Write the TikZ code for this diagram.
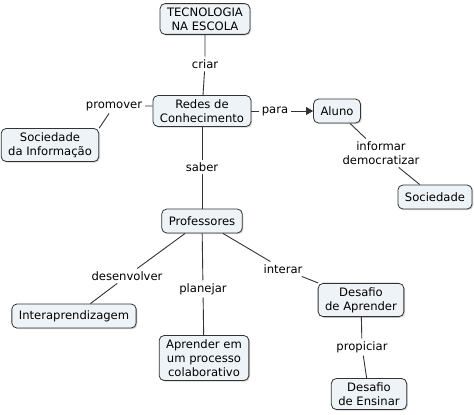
\documentclass[tikz,border=0pt]{standalone}
\usepackage{fontspec}
\setmainfont{DejaVu Sans}
\usepackage{tikz}
\usetikzlibrary{arrows, shadows, positioning}
\definecolor{cfill}{RGB}{237,243,246}
\definecolor{cline}{RGB}{51,51,51}
\tikzstyle{concept}=[rectangle, rounded corners=5pt, draw=cline, fill=cfill, thick, align=center,
  inner xsep=7pt, inner ysep=4pt, minimum height=24pt,
  drop shadow={shadow xshift=1.2pt, shadow yshift=-1.2pt, opacity=0.35}]
\tikzstyle{link}=[align=center, inner sep=2.5pt]
\tikzstyle{post}=[->, >=triangle 60]

\begin{document}
\begin{tikzpicture}[x=1pt, y=-1pt, font=\fontsize{11.6}{14}\selectfont, line width=0.9pt, draw=cline]
      \useasboundingbox (0,0) rectangle (474,415);

      \node[concept] (tec)    at (205,19)  {TECNOLOGIA\\NA ESCOLA};
      \node[concept] (redes)  at (202,111) {Redes de\\Conhecimento};
      \node[concept] (aluno)  at (337,111) {Aluno};
      \node[concept] (socinf) at (50,145)  {Sociedade\\da Informação};
      \node[concept] (soc)    at (435,197) {Sociedade};
      \node[concept] (prof)   at (202,221) {Professores};
      \node[concept] (inter)  at (74,316)  {Interaprendizagem};
      \node[concept] (colab)  at (204,358) {Aprender em\\um processo\\colaborativo};
      \node[concept] (dapr)   at (361,300) {Desafio\\de Aprender};
      \node[concept] (dens)   at (369,394) {Desafio\\de Ensinar};

      \node[link] (lcriar) at (205,64)  {criar};
      \node[link] (lprom)  at (114,106) {promover};
      \node[link] (lpara)  at (275,111) {para};
      \node[link] (linf)   at (381,153) {informar\\democratizar};
      \node[link] (lsaber) at (202,167) {saber};
      \node[link] (ldes)   at (127,276) {desenvolver};
      \node[link] (lplan)  at (203,289) {planejar};
      \node[link] (linter) at (283,269) {interar};
      \node[link] (lprop)  at (362,347) {propiciar};

      \draw (tec) -- (lcriar) -- (redes);
      \draw (redes.west |- lprom) -- (lprom) -- (socinf.north east);
      \draw (redes) -- (lpara);
      \draw[post] (lpara) -- (aluno);
      \draw (aluno) -- (linf) -- (soc);
      \draw (redes) -- (lsaber) -- (prof);
      \draw (prof) -- (ldes) -- (inter);
      \draw (prof) -- (lplan) -- (colab);
      \draw (prof) -- (linter) -- (dapr);
      \draw (dapr) -- (lprop) -- (dens);
\end{tikzpicture}
\end{document}
